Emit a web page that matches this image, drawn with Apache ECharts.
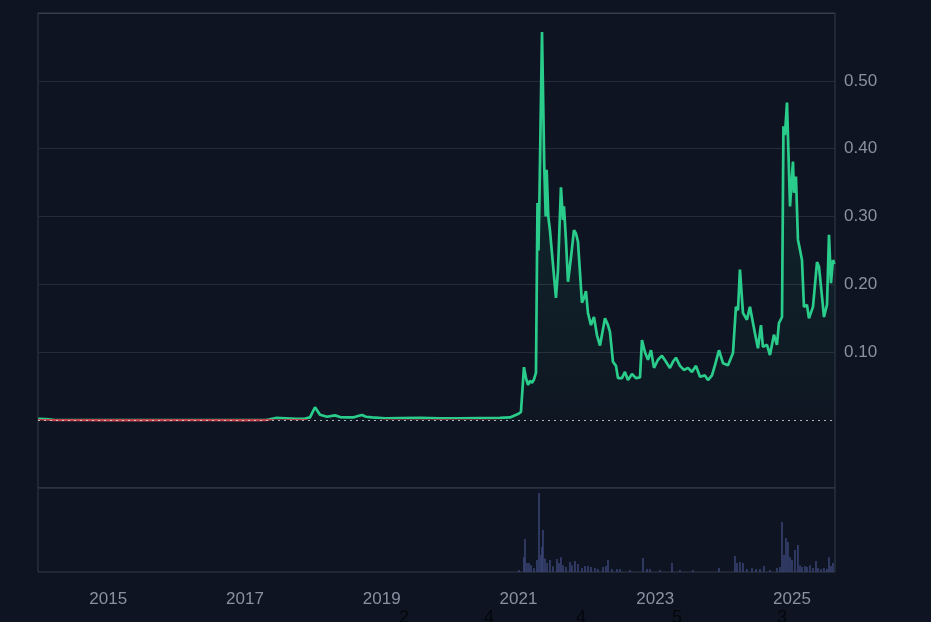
<!DOCTYPE html>
<html>
<head>
<meta charset="utf-8">
<style>
  html, body { margin: 0; padding: 0; background: #0e1421; }
  #chart { width: 931px; height: 622px; }
</style>
<script src="https://cdn.jsdelivr.net/npm/echarts@6/dist/echarts.min.js"></script>
</head>
<body>
<div id="chart"></div>
<script>
// ---- data (x in decimal years) ----
const priceYears = [
  2013.975, 2014.08, 2014.2, 2014.5, 2015.0, 2015.5, 2016.0, 2016.5, 2017.0, 2017.3, 2017.345, 2017.37,
  2017.45, 2017.6, 2017.75, 2017.88, 2017.951, 2018.024, 2018.097, 2018.199, 2018.316, 2018.390, 2018.492,
  2018.580, 2018.667, 2018.711, 2018.770, 2018.857, 2019.048, 2019.267, 2019.560, 2019.852, 2020.145,
  2020.437, 2020.729, 2020.876, 2020.934, 2020.993, 2021.036, 2021.080, 2021.110, 2021.139, 2021.168,
  2021.197, 2021.227, 2021.256, 2021.278, 2021.292, 2021.307, 2021.344, 2021.377, 2021.398, 2021.412,
  2021.436, 2021.460, 2021.504, 2021.548, 2021.577, 2021.621, 2021.651, 2021.665, 2021.694, 2021.724,
  2021.768, 2021.811, 2021.841, 2021.870, 2021.928, 2021.958, 2021.987, 2022.016, 2022.060, 2022.104,
  2022.148, 2022.192, 2022.265, 2022.309, 2022.338, 2022.382, 2022.426, 2022.455, 2022.513, 2022.557,
  2022.601, 2022.660, 2022.718, 2022.777, 2022.806, 2022.850, 2022.894, 2022.938, 2022.982, 2023.040,
  2023.098, 2023.157, 2023.215, 2023.259, 2023.303, 2023.362, 2023.420, 2023.479, 2023.537, 2023.596,
  2023.654, 2023.727, 2023.771, 2023.830, 2023.874, 2023.932, 2023.991, 2024.064, 2024.137, 2024.180,
  2024.210, 2024.239, 2024.283, 2024.341, 2024.385, 2024.458, 2024.502, 2024.546, 2024.575, 2024.634,
  2024.678, 2024.736, 2024.780, 2024.809, 2024.854, 2024.875, 2024.897, 2024.927, 2024.971, 2025.014,
  2025.029, 2025.058, 2025.087, 2025.117, 2025.146, 2025.175, 2025.219, 2025.248, 2025.307, 2025.366,
  2025.395, 2025.439, 2025.468, 2025.512, 2025.541, 2025.570, 2025.599, 2025.621
];
const priceValues = [
  0.0018, 0.0016, 0.0004, 0.0002, 0.0001, 0.0001, 0.0002, 0.0002, 0.0001, 0.0002, 0.0009, 0.003,
  0.0032, 0.0026, 0.002, 0.0022, 0.004, 0.019, 0.008, 0.005, 0.007, 0.0045, 0.004,
  0.004, 0.0065, 0.0075, 0.005, 0.004, 0.0028, 0.003, 0.0032, 0.0025, 0.0028,
  0.003, 0.0032, 0.004, 0.0065, 0.009, 0.012, 0.078, 0.062, 0.052, 0.058,
  0.055, 0.060, 0.070, 0.32, 0.25, 0.33, 0.572, 0.374, 0.30, 0.369,
  0.30, 0.28, 0.23, 0.18, 0.22, 0.343, 0.295, 0.315, 0.266, 0.204,
  0.24, 0.28, 0.275, 0.263, 0.173, 0.18, 0.19, 0.158, 0.14, 0.152,
  0.125, 0.11, 0.15, 0.14, 0.13, 0.086, 0.08, 0.062, 0.062, 0.071,
  0.059, 0.068, 0.062, 0.063, 0.118, 0.10, 0.089, 0.103, 0.077, 0.089,
  0.095, 0.086, 0.077, 0.086, 0.092, 0.08, 0.074, 0.077, 0.071, 0.08,
  0.064, 0.066, 0.059, 0.066, 0.081, 0.103, 0.084, 0.081, 0.099, 0.167,
  0.162, 0.222, 0.158, 0.148, 0.167, 0.128, 0.106, 0.14, 0.108, 0.111,
  0.096, 0.126, 0.111, 0.143, 0.152, 0.433, 0.42, 0.468, 0.315, 0.381,
  0.335, 0.359, 0.266, 0.251, 0.236, 0.167, 0.17, 0.15, 0.167, 0.233,
  0.226, 0.182, 0.152, 0.17, 0.273, 0.202, 0.236, 0.23
];
const volumeYears = [
  2021.007, 2021.080, 2021.095, 2021.124, 2021.153, 2021.183, 2021.227, 2021.270, 2021.300, 2021.329,
  2021.344, 2021.358, 2021.387, 2021.417, 2021.460, 2021.504, 2021.563, 2021.592, 2021.621, 2021.651,
  2021.694, 2021.753, 2021.782, 2021.826, 2021.870, 2021.928, 2021.972, 2022.016, 2022.060, 2022.119,
  2022.162, 2022.236, 2022.279, 2022.309, 2022.367, 2022.440, 2022.484, 2022.630, 2022.821, 2022.879,
  2022.923, 2023.069, 2023.245, 2023.362, 2023.552, 2023.932, 2024.166, 2024.195, 2024.239, 2024.283,
  2024.341, 2024.415, 2024.473, 2024.532, 2024.590, 2024.678, 2024.780, 2024.824, 2024.854, 2024.883,
  2024.912, 2024.941, 2024.971, 2025.000, 2025.043, 2025.087, 2025.117, 2025.146, 2025.190, 2025.219,
  2025.263, 2025.307, 2025.351, 2025.380, 2025.424, 2025.468, 2025.512, 2025.541, 2025.570, 2025.599
];
const volumeValues = [
  1.8, 13, 29, 8, 8, 6, 3.5, 10.5, 69.5, 15,
  22, 37, 12, 8, 10.5, 5, 11.4, 8, 13, 6,
  4.4, 8.8, 6, 9.7, 7, 3.5, 5.3, 5.3, 4.4, 3.5,
  2.6, 4.4, 5.3, 10.5, 2.6, 2.6, 2.6, 1.8, 12.3, 2.6,
  2.6, 1.8, 8, 1.8, 1.8, 3.5, 14, 8, 8.8, 8,
  2.6, 3.5, 2.6, 2.6, 5.3, 1.8, 3.5, 4.4, 44, 15,
  30, 26.4, 13, 10.5, 19.4, 23.8, 6, 4.4, 5.3, 4.4,
  6, 3.5, 9.7, 3.5, 2.6, 3.5, 2.6, 13, 5.3, 8
];
const xTickYears = [2015, 2017, 2019, 2021, 2023, 2025];
const bottomMarks = ['2', '4', '4', '5', '3'];
const baselinePrice = 0.0013;

// ---- styles / layout ----
const BG = '#0e1421';
const GREEN = '#29cc8a';
const RED = '#c4444e';
const GRIDLINE = '#242c3a';
const BORDER = '#353d4b';
const LABEL = '#8a91a0';
const FONT = '"Liberation Sans", Arial, sans-serif';
const X_MIN = 2013.973, X_MAX = 2025.629;
const bottomMarkX = [404, 489, 581, 677, 782];

const chart = echarts.init(document.getElementById('chart'), null, { renderer: 'canvas' });

const priceData = priceYears.map((t, i) => [t, priceValues[i]]);
const volumeData = volumeYears.map((t, i) => [t, volumeValues[i]]);

const splitColors = [GRIDLINE, 'rgba(0,0,0,0)', GRIDLINE, GRIDLINE, GRIDLINE, GRIDLINE, GRIDLINE, BORDER];

chart.setOption({
  backgroundColor: BG,
  animation: false,
  grid: [
    { left: 38, right: 96, top: 13, height: 475, show: true, borderColor: BORDER, borderWidth: 1, backgroundColor: 'transparent' },
    { left: 38, right: 96, top: 488, height: 84, show: true, borderColor: BORDER, borderWidth: 1, backgroundColor: 'transparent' }
  ],
  xAxis: [
    { type: 'value', gridIndex: 0, min: X_MIN, max: X_MAX,
      axisLine: { show: false }, axisTick: { show: false }, axisLabel: { show: false }, splitLine: { show: false } },
    { type: 'value', gridIndex: 1, min: X_MIN, max: X_MAX,
      axisLine: { show: false }, axisTick: { show: false, customValues: xTickYears }, splitLine: { show: false },
      axisLabel: { show: true, customValues: xTickYears, formatter: v => String(Math.round(v)),
        color: LABEL, fontSize: 17, fontFamily: FONT, margin: 19 } }
  ],
  yAxis: [
    { type: 'value', gridIndex: 0, position: 'right', min: -0.1, max: 0.6, interval: 0.1,
      axisLine: { show: false }, axisTick: { show: false },
      axisLabel: { color: LABEL, fontSize: 17, fontFamily: FONT, margin: 9,
        formatter: v => (v > 0.001 && v < 0.55) ? v.toFixed(2) : '' },
      splitLine: { show: true, lineStyle: { color: splitColors, width: 1 } } },
    { type: 'value', gridIndex: 1, min: 0, max: 74,
      axisLine: { show: false }, axisTick: { show: false }, axisLabel: { show: false }, splitLine: { show: false } }
  ],
  visualMap: {
    show: false, type: 'piecewise', seriesIndex: 1, dimension: 1,
    pieces: [
      { gt: -1, lte: baselinePrice, color: RED },
      { gt: baselinePrice, lte: 1, color: GREEN }
    ]
  },
  series: [
    {
      name: 'zero', type: 'line', xAxisIndex: 0, yAxisIndex: 0, data: [], z: 1,
      markLine: {
        silent: true, symbol: 'none', label: { show: false },
        lineStyle: { color: 'rgba(230,235,240,0.75)', type: [2, 4], width: 1 },
        data: [{ yAxis: 0 }]
      }
    },
    {
      name: 'price', type: 'line', xAxisIndex: 0, yAxisIndex: 0, data: priceData,
      showSymbol: false, symbol: 'none', smooth: false,
      lineStyle: { width: 2.7 },
      areaStyle: {
        origin: 0,
        color: new echarts.graphic.LinearGradient(0, 0, 0, 1, [
          { offset: 0, color: 'rgba(41,204,138,0.20)' },
          { offset: 1, color: 'rgba(41,204,138,0.02)' }
        ])
      },
      z: 3
    },
    {
      name: 'volume', type: 'bar', xAxisIndex: 1, yAxisIndex: 1, data: volumeData,
      barWidth: 1.5, itemStyle: { color: '#3a4576' }, z: 2
    }
  ],
  graphic: bottomMarks.map((t, i) => ({
    type: 'text', left: bottomMarkX[i] - 5, top: 609, silent: true,
    style: { text: t, fill: '#05070b', font: '18px ' + FONT }
  }))
});
</script>
</body>
</html>
